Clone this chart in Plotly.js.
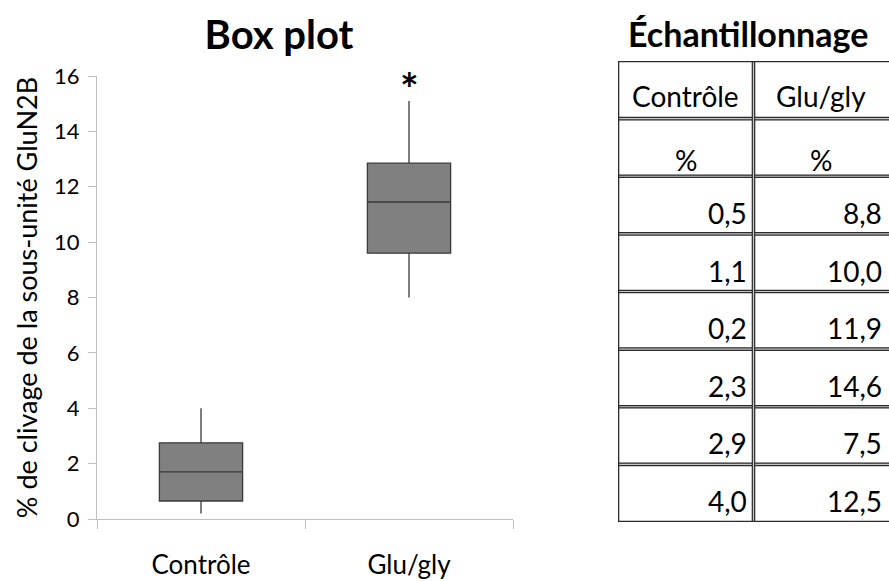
<!DOCTYPE html>
<html>
<head>
<meta charset="utf-8">
<script src="https://cdn.plot.ly/plotly-3.0.1.min.js"></script>
<style>html,body{margin:0;padding:0;background:#fff;}#chart{width:889px;height:581px;}</style>
</head>
<body>
<div id="chart"></div>
<script>
// ---- data ----
const groups = ['Contrôle', 'Glu/gly'];
const lowerWhisker = [0.2, 8.0];
const q1Values = [0.65, 9.6];
const medianValues = [1.70, 11.45];
const q3Values = [2.75, 12.85];
const upperWhisker = [4.0, 15.1];
const yTickValues = [0, 2, 4, 6, 8, 10, 12, 14, 16];

const tableHeader = ['Contrôle', 'Glu/gly'];
const tableUnits = ['%', '%'];
const controleSamples = [0.5, 1.1, 0.2, 2.3, 2.9, 4.0];
const gluGlySamples = [8.8, 10.0, 11.9, 14.6, 7.5, 12.5];

const chartTitle = 'Box plot';
const tableTitle = 'Échantillonnage';
const yTitle = '% de clivage de la sous-unité GluN2B';
const significance = '*';

// ---- styles ----
const FONT = 'Lato, "Open Sans", sans-serif';
const W = 889, H = 581;

const boxTrace = {
  type: 'box',
  x: groups,
  q1: q1Values,
  median: medianValues,
  q3: q3Values,
  lowerfence: lowerWhisker,
  upperfence: upperWhisker,
  fillcolor: '#808080',
  line: {color: '#3a3a3a', width: 1.3},
  whiskerwidth: 0,
  width: 0.4,
  boxpoints: false,
  showlegend: false,
  hoverinfo: 'y',
  xaxis: 'x', yaxis: 'y'
};

// table built from the sample arrays
const rows = [tableHeader, tableUnits];
for (let i = 0; i < controleSamples.length; i++) {
  rows.push([controleSamples[i], gluGlySamples[i]]);
}
const nRows = rows.length;
const nCols = 2;
const fmt = v => typeof v === 'number' ? v.toFixed(1).replace('.', ',') : v;

const annotations = [];
rows.forEach((row, r) => {
  row.forEach((val, c) => {
    const isNum = typeof val === 'number';
    annotations.push({
      xref: 'x2', yref: 'y2',
      x: isNum ? c + 1 : c + 0.5,
      y: r + 1,
      xanchor: isNum ? 'right' : 'center',
      yanchor: 'middle',
      xshift: isNum ? -5 : 0,
      yshift: r === 0 ? 23 : (r === 1 ? 16 : 21),
      text: fmt(val),
      showarrow: false,
      font: {family: FONT, size: 28, color: '#000'}
    });
  });
});

annotations.push({
  xref: 'paper', yref: 'paper',
  x: 748 / W, y: 1 - 33 / H,
  xanchor: 'center', yanchor: 'middle',
  text: '<b>' + tableTitle + '</b>',
  showarrow: false,
  font: {family: FONT, size: 34, color: '#000'}
});

annotations.push({
  xref: 'x', yref: 'y',
  x: groups[1], y: 16,
  xanchor: 'center', yanchor: 'middle',
  yshift: -12,
  text: '<b>' + significance + '</b>',
  showarrow: false,
  font: {family: FONT, size: 44, color: '#000'}
});

const shapes = [];
const dark = '#2b2b2b', light = '#c4c4c4';
// inner horizontal double lines
for (let r = 1; r < nRows; r++) {
  shapes.push({type: 'line', xref: 'x2', yref: 'y2', x0: 0, x1: nCols, y0: r, y1: r, line: {color: dark, width: 3.6}});
  shapes.push({type: 'line', xref: 'x2', yref: 'y2', x0: 0, x1: nCols, y0: r, y1: r, line: {color: light, width: 1.2}});
}
// inner vertical double lines
for (let c = 1; c < nCols; c++) {
  shapes.push({type: 'line', xref: 'x2', yref: 'y2', x0: c, x1: c, y0: 0, y1: nRows, line: {color: dark, width: 3.6}});
  shapes.push({type: 'line', xref: 'x2', yref: 'y2', x0: c, x1: c, y0: 0, y1: nRows, line: {color: light, width: 1.2}});
}
// outer border (left, top, bottom)
shapes.push({type: 'line', xref: 'x2', yref: 'y2', x0: 0, x1: 0, y0: 0, y1: nRows, line: {color: dark, width: 2.6}});
shapes.push({type: 'line', xref: 'x2', yref: 'y2', x0: 0, x1: nCols, y0: 0, y1: 0, line: {color: dark, width: 2.6}});
shapes.push({type: 'line', xref: 'x2', yref: 'y2', x0: 0, x1: nCols, y0: nRows, y1: nRows, line: {color: dark, width: 2.6}});

const layout = {
  width: W, height: H,
  margin: {l: 0, r: 0, t: 0, b: 0},
  paper_bgcolor: '#fff', plot_bgcolor: '#fff',
  font: {family: FONT, color: '#000'},
  title: {
    text: '<b>' + chartTitle + '</b>',
    x: 279 / W, xanchor: 'center',
    y: 1 - 35 / H, yanchor: 'middle',
    font: {family: FONT, size: 40, color: '#000'}
  },
  xaxis: {
    domain: [97 / W, 513 / W],
    type: 'category',
    range: [-0.5, 1.5],
    tickson: 'boundaries',
    ticks: 'outside', ticklen: 9, tickcolor: '#bfbfbf', tickwidth: 1,
    showline: true, linecolor: '#bfbfbf', linewidth: 1,
    showgrid: false, zeroline: false,
    tickfont: {family: FONT, size: 26, color: '#000'},
    ticklabelstandoff: 23,
    fixedrange: true
  },
  yaxis: {
    domain: [1 - 519 / H, 1 - 76 / H],
    range: [0, 16],
    tickvals: yTickValues,
    ticks: 'outside', ticklen: 8, tickcolor: '#bfbfbf', tickwidth: 1,
    showline: true, linecolor: '#bfbfbf', linewidth: 1,
    showgrid: false, zeroline: false,
    tickfont: {family: FONT, size: 22, color: '#000'},
    ticklabelstandoff: 4,
    title: {text: yTitle, font: {family: FONT, size: 27, color: '#000'}, standoff: 8},
    fixedrange: true
  },
  xaxis2: {
    domain: [618 / W, 1],
    range: [0, nCols],
    anchor: 'y2',
    visible: false,
    fixedrange: true
  },
  yaxis2: {
    domain: [1 - 522 / H, 1 - 61 / H],
    range: [nRows, 0],
    anchor: 'x2',
    visible: false,
    fixedrange: true
  },
  shapes: shapes,
  annotations: annotations,
  showlegend: false
};

Plotly.newPlot('chart', [boxTrace], layout, {displayModeBar: false, staticPlot: true});
</script>
</body>
</html>
